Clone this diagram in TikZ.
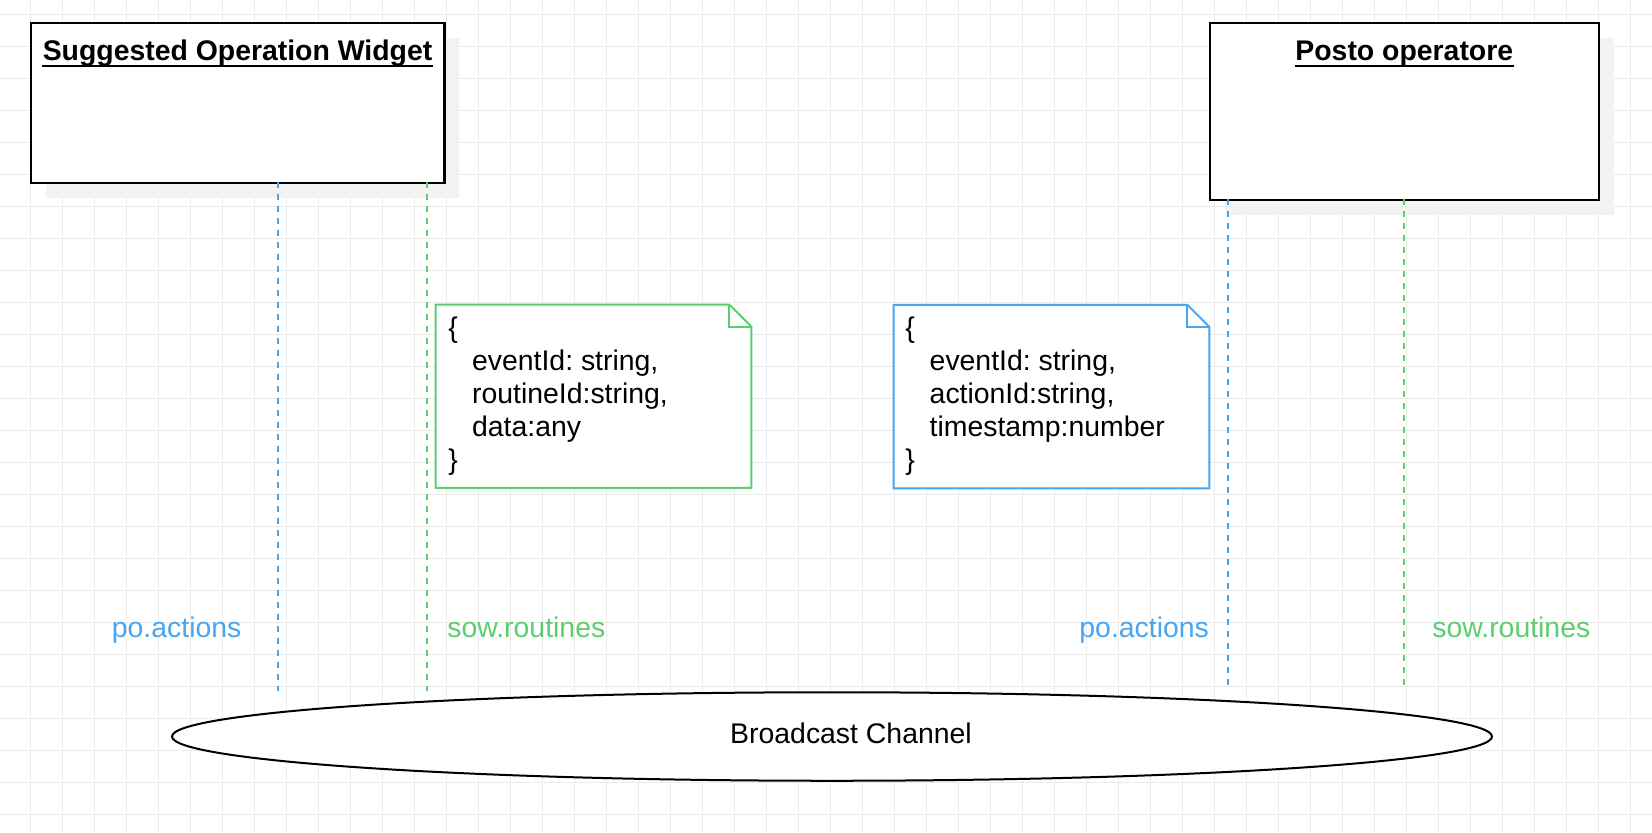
\documentclass[tikz,border=0pt]{standalone}
\usepackage{fontspec}
\setmainfont{Liberation Sans}
\frenchspacing
\usetikzlibrary{shapes.geometric}
\definecolor{gridc}{HTML}{EBEBEB}
\definecolor{shadowc}{HTML}{F2F2F2}
\definecolor{blueA}{HTML}{47A5F2}
\definecolor{greenA}{HTML}{5CCE6E}
\tikzset{
  txt/.style={inner sep=0pt, font=\fontsize{14.2pt}{17pt}\selectfont, anchor=base west},
  titletxt/.style={inner sep=0pt, font=\fontsize{14.2pt}{17pt}\selectfont\bfseries, anchor=base},
  umlbox/.style={draw=black, line width=1.1pt, fill=white, rectangle, inner sep=0pt},
  notebox/.style={rectangle, inner sep=0pt, minimum width=157.5pt, minimum height=91.25pt},
  lifeblue/.style={draw=blueA, line width=1.1pt, dash pattern=on 3pt off 3pt},
  lifegreen/.style={draw=greenA, line width=1.1pt, dash pattern=on 3pt off 3pt},
  chan/.style={draw=black, line width=1pt, fill=white, ellipse, inner sep=0pt, minimum width=660pt, minimum height=44.25pt}
}
\begin{document}
\begin{tikzpicture}[x=0.5pt, y=-0.5pt]
\useasboundingbox (0,0) rectangle (1652,832);
\fill[white] (0,0) rectangle (1652,832);
% grid
\foreach \i in {0,...,50} \draw[gridc, line width=0.5pt] ({30.7+32*\i},0) -- ({30.7+32*\i},832);
\foreach \j in {0,...,25} \draw[gridc, line width=0.5pt] (0,{14.7+32*\j}) -- (1652,{14.7+32*\j});

% boxes
\path (237.5,102.7) node[rectangle, minimum width=206.5pt, minimum height=79.5pt, inner sep=0pt] (lb) {};
\path (1404.2,111.3) node[rectangle, minimum width=194pt, minimum height=88pt, inner sep=0pt] (rb) {};
\fill[shadowc] ([shift={(15,15)}]lb.north west) rectangle ([shift={(15,15)}]lb.south east);
\fill[shadowc] ([shift={(15,15)}]rb.north west) rectangle ([shift={(15,15)}]rb.south east);
\draw[umlbox] (lb.north west) rectangle (lb.south east);
\draw[umlbox] (rb.north west) rectangle (rb.south east);
\node[titletxt] (lt) at (237.5,60) {Suggested Operation Widget};
\node[titletxt] (rt) at (1404.3,60) {Posto operatore};
\draw[line width=0.7pt] ([yshift=-3pt]lt.base west) -- ([yshift=-3pt]lt.base east);
\draw[line width=0.7pt] ([yshift=-3pt]rt.base west) -- ([yshift=-3pt]rt.base east);

% channel
\node[chan] (ch) at (832,736.5) {};
\node[inner sep=0pt, font=\fontsize{14.2pt}{17pt}\selectfont, anchor=base] (cht) at (851,743.3) {Broadcast Channel};

% lifelines
\coordinate (a1) at (277.7,181.7);
\coordinate (a2) at (427.3,181.7);
\coordinate (b1) at (1228.3,199.3);
\coordinate (b2) at (1404.2,199.3);
\draw[lifeblue] (a1) -- (a1 |- ch.north);
\draw[lifegreen] (a2) -- (a2 |- ch.north);
\draw[lifeblue] (b1) -- (b1 |- ch.north);
\draw[lifegreen] (b2) -- (b2 |- ch.north);

% labels
\node[txt, text=blueA] (la1) at (111.5,637.5) {po.actions};
\node[txt, text=greenA] (la2) at (447,637.5) {sow.routines};
\node[txt, text=blueA] (lb1) at (1079,637.5) {po.actions};
\node[txt, text=greenA] (lb2) at (1432,637.5) {sow.routines};

% notes
\node[notebox] (n1) at (593.5,396.3) {};
\node[notebox] (n2) at (1051.5,396.6) {};
\foreach \n/\c in {n1/greenA, n2/blueA} {
  \draw[\c, line width=1pt, fill=white, line join=miter]
    (\n.north west) -- ([xshift=-11pt]\n.north east) -- ([yshift=-11pt]\n.north east)
    -- (\n.south east) -- (\n.south west) -- cycle;
  \draw[\c, line width=1pt]
    ([xshift=-11pt]\n.north east) -- ([shift={(-11pt,-11pt)}]\n.north east) -- ([yshift=-11pt]\n.north east);
}
\node[txt] (n1a) at (448,337) {\{};
\node[txt] (n1b) at (471.7,370.2) {eventId: string,};
\node[txt] (n1c) at (471.7,403.4) {routineId:string,};
\node[txt] (n1d) at (471.7,436.6) {data:any};
\node[txt] (n1e) at (448,469.8) {\}};

\node[txt] (n2a) at (905,337) {\{};
\node[txt] (n2b) at (929.3,370.2) {eventId: string,};
\node[txt] (n2c) at (929.3,403.4) {actionId:string,};
\node[txt] (n2d) at (929.3,436.6) {timestamp:number};
\node[txt] (n2e) at (905,469.8) {\}};
\end{tikzpicture}
\end{document}
